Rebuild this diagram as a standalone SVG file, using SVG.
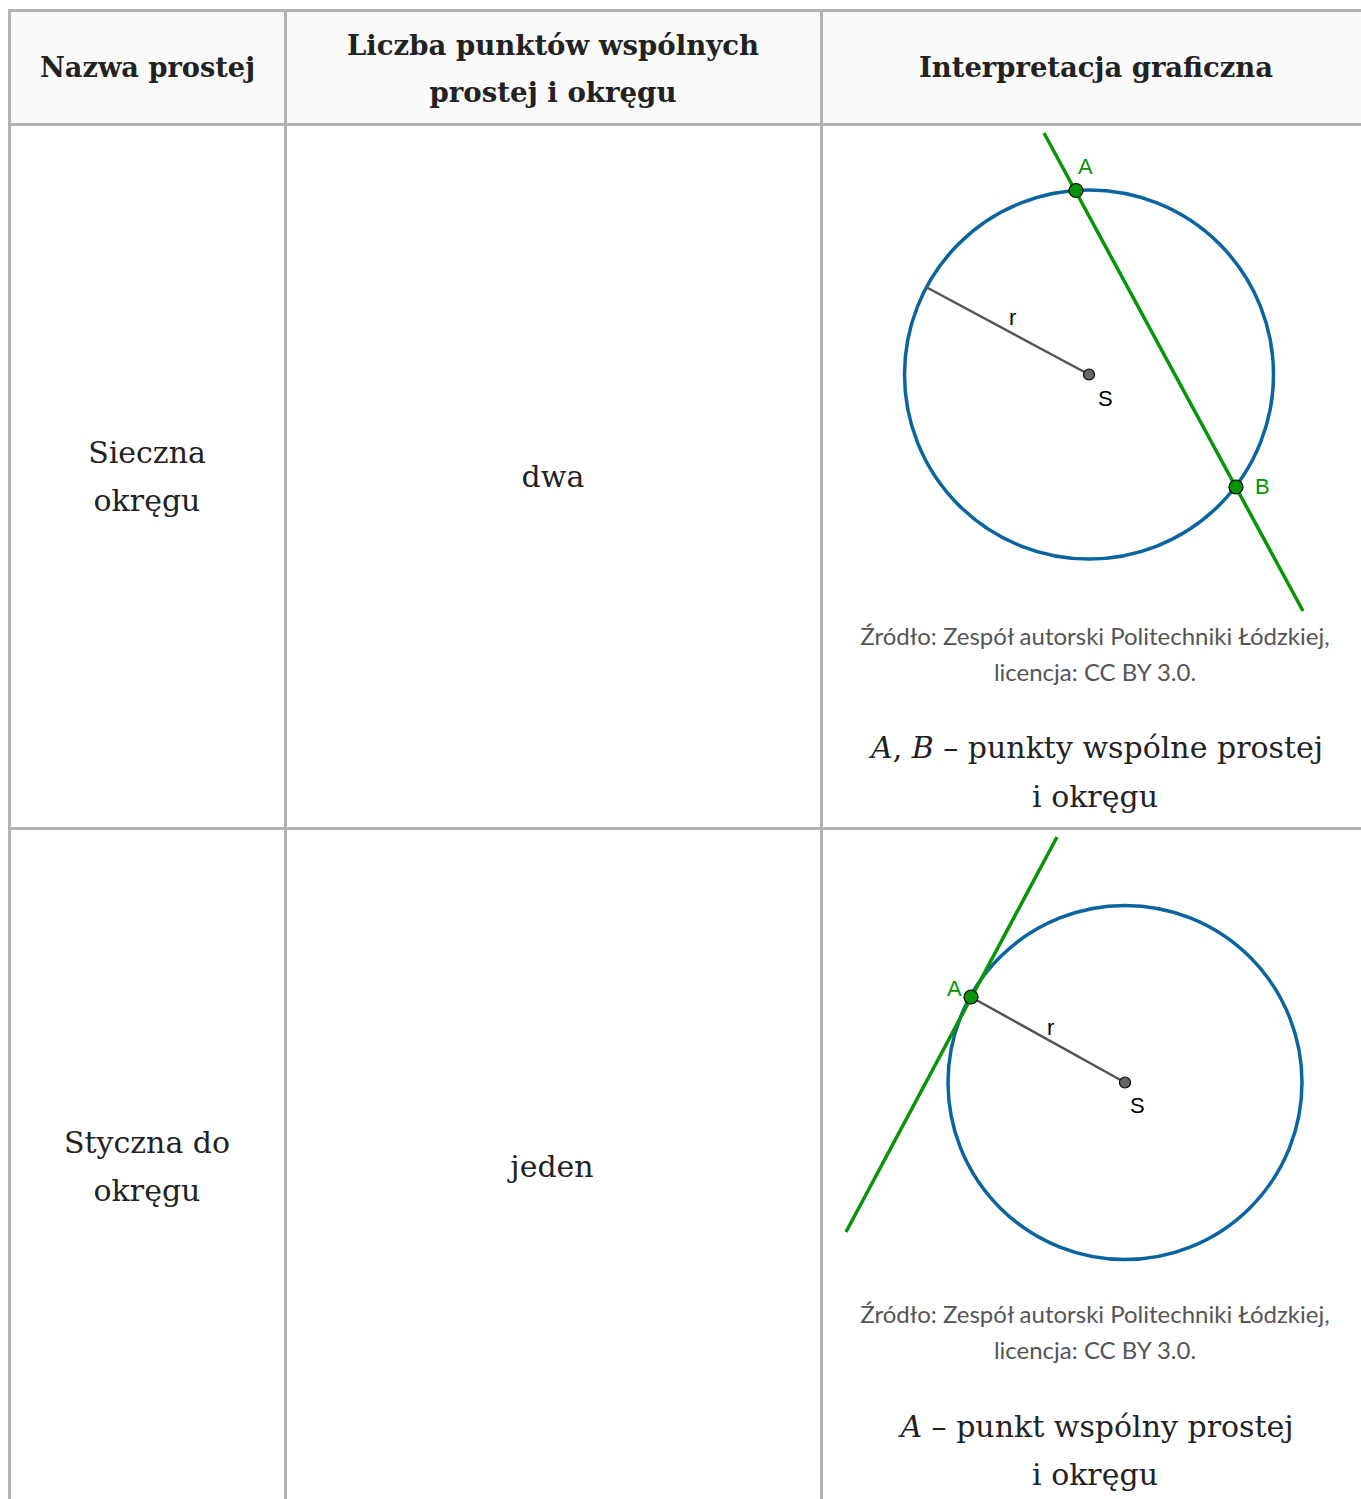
<svg xmlns="http://www.w3.org/2000/svg" width="1361" height="1499" viewBox="0 0 1361 1499">
<style>
.grid{stroke:#b3b3b3;stroke-width:3;fill:none}
.hd{font-family:"DejaVu Serif","Liberation Serif",serif;font-weight:bold;font-size:28px;fill:#222;text-anchor:middle}
.bd{font-family:"DejaVu Serif","Liberation Serif",serif;font-size:30px;fill:#222;text-anchor:middle}
.cap{font-family:Lato,"Liberation Sans",sans-serif;font-size:24px;fill:#555;text-anchor:middle}
.circ{fill:none;stroke:#0a64a0;stroke-width:3.5}
.gl{stroke:#079407;stroke-width:3.5;fill:none}
.rad{stroke:#555;stroke-width:2.5}
.pt{fill:#079407;stroke:#000;stroke-width:1.2}
.sp{fill:#666;stroke:#000;stroke-width:1.2}
.gtx{font-family:"Liberation Sans",Arial,sans-serif;font-size:22px;fill:#079407}
.btx{font-family:"Liberation Sans",Arial,sans-serif;font-size:22px;fill:#000}
</style>
<rect x="0" y="0" width="1361" height="1499" fill="#fff"/>
<rect x="9" y="10" width="1352" height="114" fill="#fafafa"/>
<g id="grid">
<line class="grid" x1="8" y1="10.5" x2="1361" y2="10.5"/>
<line class="grid" x1="8" y1="124.5" x2="1361" y2="124.5"/>
<line class="grid" x1="8" y1="828.5" x2="1361" y2="828.5"/>
<line class="grid" x1="9.5" y1="9" x2="9.5" y2="1499"/>
<line class="grid" x1="285.5" y1="9" x2="285.5" y2="1499"/>
<line class="grid" x1="821.5" y1="9" x2="821.5" y2="1499"/>
</g>
<g id="header">
<text class="hd" x="147.5" y="77" textLength="215" lengthAdjust="spacingAndGlyphs">Nazwa prostej</text>
<text class="hd" x="553" y="55" textLength="412" lengthAdjust="spacingAndGlyphs">Liczba punktów wspólnych</text>
<text class="hd" x="553" y="102" textLength="247" lengthAdjust="spacingAndGlyphs">prostej i okręgu</text>
<text class="hd" x="1096" y="77" textLength="354" lengthAdjust="spacingAndGlyphs">Interpretacja graficzna</text>
</g>
<g id="row1">
<text class="bd" x="147" y="463">Sieczna</text>
<text class="bd" x="147" y="511">okręgu</text>
<text class="bd" x="553" y="487">dwa</text>
</g>
<g id="fig1">
<circle class="circ" cx="1089" cy="374.5" r="184.5"/>
<line class="gl" x1="1044" y1="133" x2="1303" y2="611"/>
<line class="rad" x1="926" y1="287" x2="1089" y2="374.5"/>
<circle class="sp" cx="1089" cy="374.5" r="5.5"/>
<circle class="pt" cx="1076" cy="190.5" r="7"/>
<circle class="pt" cx="1236" cy="487" r="7"/>
<text class="gtx" x="1078" y="174">A</text>
<text class="gtx" x="1255" y="494">B</text>
<text class="btx" x="1009" y="325">r</text>
<text class="btx" x="1098" y="406">S</text>
</g>
<g id="caption1">
<text class="cap" x="1095" y="645">Źródło: Zespół autorski Politechniki Łódzkiej,</text>
<text class="cap" x="1095" y="681">licencja: CC BY 3.0.</text>
<text class="bd" x="1097" y="758"><tspan font-style="italic">A</tspan>, <tspan font-style="italic">B</tspan> – punkty wspólne prostej</text>
<text class="bd" x="1095" y="807">i okręgu</text>
</g>
<g id="row2">
<text class="bd" x="147" y="1153">Styczna do</text>
<text class="bd" x="147" y="1201">okręgu</text>
<text class="bd" x="552" y="1177">jeden</text>
</g>
<g id="fig2">
<circle class="circ" cx="1125" cy="1082.5" r="177"/>
<line class="gl" x1="1057" y1="837" x2="846" y2="1232"/>
<line class="rad" x1="971" y1="997" x2="1125" y2="1082.5"/>
<circle class="sp" cx="1125" cy="1082.5" r="5.5"/>
<circle class="pt" cx="971" cy="997" r="7"/>
<text class="gtx" x="947" y="996">A</text>
<text class="btx" x="1047" y="1035">r</text>
<text class="btx" x="1130" y="1113">S</text>
</g>
<g id="caption2">
<text class="cap" x="1095" y="1323">Źródło: Zespół autorski Politechniki Łódzkiej,</text>
<text class="cap" x="1095" y="1359">licencja: CC BY 3.0.</text>
<text class="bd" x="1097" y="1437"><tspan font-style="italic">A</tspan> – punkt wspólny prostej</text>
<text class="bd" x="1095" y="1485">i okręgu</text>
</g>
</svg>
